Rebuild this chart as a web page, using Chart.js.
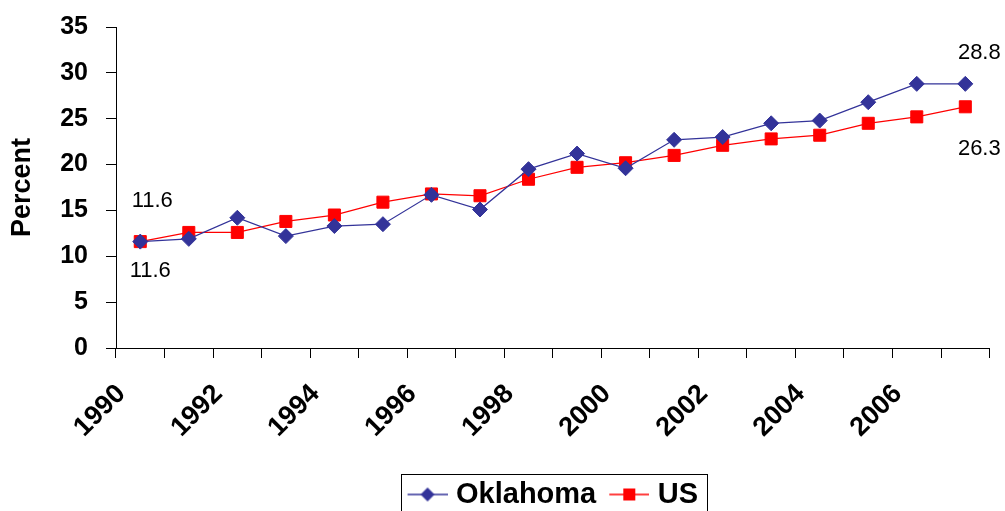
<!DOCTYPE html>
<html>
<head>
<meta charset="utf-8">
<script src="https://cdn.jsdelivr.net/npm/chart.js@4/dist/chart.umd.min.js"></script>
<style>
  body { margin: 0; background: #fff; }
  canvas { display: block; }
</style>
</head>
<body>
<canvas id="myChart" width="1005" height="511"></canvas>
<script>
const years = ['1990', '1991', '1992', '1993', '1994', '1995', '1996', '1997', '1998',
               '1999', '2000', '2001', '2002', '2003', '2004', '2005', '2006', '2007'];
const oklahoma = [11.6, 11.9, 14.2, 12.2, 13.3, 13.5, 16.7, 15.1, 19.5,
                  21.2, 19.6, 22.7, 23.0, 24.5, 24.8, 26.8, 28.8, 28.8];
const us = [11.6, 12.6, 12.6, 13.8, 14.5, 15.9, 16.8, 16.6, 18.4,
            19.7, 20.2, 21.0, 22.1, 22.8, 23.2, 24.5, 25.2, 26.3];
const yTicks = [0, 5, 10, 15, 20, 25, 30, 35];

const FONT = '"Liberation Sans", Arial, sans-serif';
const OK_COLOR = '#333399';
const US_COLOR = '#FF0000';

// which points get a value label, and where it sits relative to the point
const valueLabels = [
  { dataset: 0, index: 0, dx: 10, dy: 29 },
  { dataset: 0, index: 17, dx: 14, dy: -31 },
  { dataset: 1, index: 0, dx: 12, dy: -41 },
  { dataset: 1, index: 17, dx: 14, dy: 42 }
];

// legend icon: short line with the marker on it (a bit wider than the legend box)
function legendIcon(color, style) {
  const c = document.createElement('canvas');
  c.width = 46;
  c.height = 20;
  const ctx = c.getContext('2d');
  ctx.strokeStyle = color;
  ctx.lineWidth = 1.5;
  ctx.beginPath();
  ctx.moveTo(6, 10);
  ctx.lineTo(46, 10);
  ctx.stroke();
  ctx.fillStyle = color;
  ctx.beginPath();
  if (style === 'diamond') {
    ctx.moveTo(26, 3); ctx.lineTo(33, 10); ctx.lineTo(26, 17); ctx.lineTo(19, 10);
  } else {
    ctx.rect(20, 4, 12, 12);
  }
  ctx.closePath();
  ctx.fill();
  return c;
}
const icons = [legendIcon(OK_COLOR, 'diamond'), legendIcon(US_COLOR, 'square')];

const valueLabelPlugin = {
  id: 'valueLabels',
  afterDatasetsDraw(chart) {
    const ctx = chart.ctx;
    ctx.save();
    ctx.font = '22px ' + FONT;
    ctx.fillStyle = '#000';
    ctx.textAlign = 'center';
    ctx.textBaseline = 'middle';
    valueLabels.forEach(l => {
      const pt = chart.getDatasetMeta(l.dataset).data[l.index];
      const v = chart.data.datasets[l.dataset].data[l.index];
      ctx.fillText(v.toFixed(1), pt.x + l.dx, pt.y + l.dy);
    });
    ctx.restore();
  }
};

const legendBoxPlugin = {
  id: 'legendBox',
  afterDraw(chart) {
    const lg = chart.legend;
    if (!lg || !lg.legendHitBoxes || !lg.legendHitBoxes.length) return;
    const boxes = lg.legendHitBoxes;
    const left = Math.min(...boxes.map(b => b.left)) - 7;
    const right = Math.max(...boxes.map(b => b.left + b.width)) + 9;
    const midY = boxes[0].top + boxes[0].height / 2;
    const ctx = chart.ctx;
    ctx.save();
    ctx.strokeStyle = '#000';
    ctx.lineWidth = 1;
    ctx.strokeRect(Math.round(left) + 0.5, Math.round(midY) - 20.5, Math.round(right - left), 60);
    ctx.restore();
  }
};

new Chart(document.getElementById('myChart').getContext('2d'), {
  type: 'line',
  data: {
    labels: years,
    datasets: [
      {
        label: 'Oklahoma',
        data: oklahoma,
        borderColor: OK_COLOR,
        backgroundColor: OK_COLOR,
        borderWidth: 1.25,
        pointStyle: 'rectRot',
        pointRadius: 7.5,
        pointBorderWidth: 1,
        tension: 0
      },
      {
        label: 'US',
        data: us,
        borderColor: US_COLOR,
        backgroundColor: US_COLOR,
        borderWidth: 1.25,
        pointStyle: 'rect',
        pointRadius: 8.5,
        pointBorderWidth: 1,
        tension: 0
      }
    ]
  },
  options: {
    responsive: false,
    animation: false,
    layout: { padding: { left: 0, right: 15, top: 27, bottom: -8 } },
    plugins: {
      tooltip: { enabled: false },
      legend: {
        position: 'bottom',
        fullSize: false,
        labels: {
          usePointStyle: true,
          pointStyleWidth: 34,
          padding: 13,
          color: '#000',
          font: { family: FONT, size: 29, weight: 'bold' },
          generateLabels(chart) {
            const items = Chart.defaults.plugins.legend.labels.generateLabels(chart);
            items.forEach((it, i) => { it.pointStyle = icons[i]; });
            return items;
          }
        }
      }
    },
    scales: {
      x: {
        offset: true,
        afterFit(scale) { scale.height = 119; },
        grid: {
          offset: true,
          drawOnChartArea: false,
          drawTicks: true,
          tickLength: 10,
          color: '#000'
        },
        border: { display: true, color: '#000', width: 1 },
        ticks: {
          autoSkip: false,
          minRotation: 45,
          maxRotation: 45,
          padding: 24,
          labelOffset: -19,
          color: '#000',
          font: { family: FONT, size: 27, weight: 'bold', lineHeight: 0.8 },
          callback(value, index) {
            return index % 2 === 0 ? years[index] : '';
          }
        }
      },
      y: {
        min: 0,
        max: 35,
        afterFit(scale) { scale.width = 116; },
        afterBuildTicks(scale) { scale.ticks = yTicks.map(v => ({ value: v })); },
        grid: {
          drawOnChartArea: false,
          drawTicks: true,
          tickLength: 10,
          color: '#000'
        },
        border: { display: true, color: '#000', width: 1 },
        title: {
          display: true,
          text: 'Percent',
          color: '#000',
          padding: { top: 6, bottom: 0 },
          font: { family: FONT, size: 27, weight: 'bold' }
        },
        ticks: {
          padding: 18,
          color: '#000',
          font: { family: FONT, size: 25, weight: 'bold', lineHeight: 0.7 }
        }
      }
    }
  },
  plugins: [valueLabelPlugin, legendBoxPlugin]
});
</script>
</body>
</html>
